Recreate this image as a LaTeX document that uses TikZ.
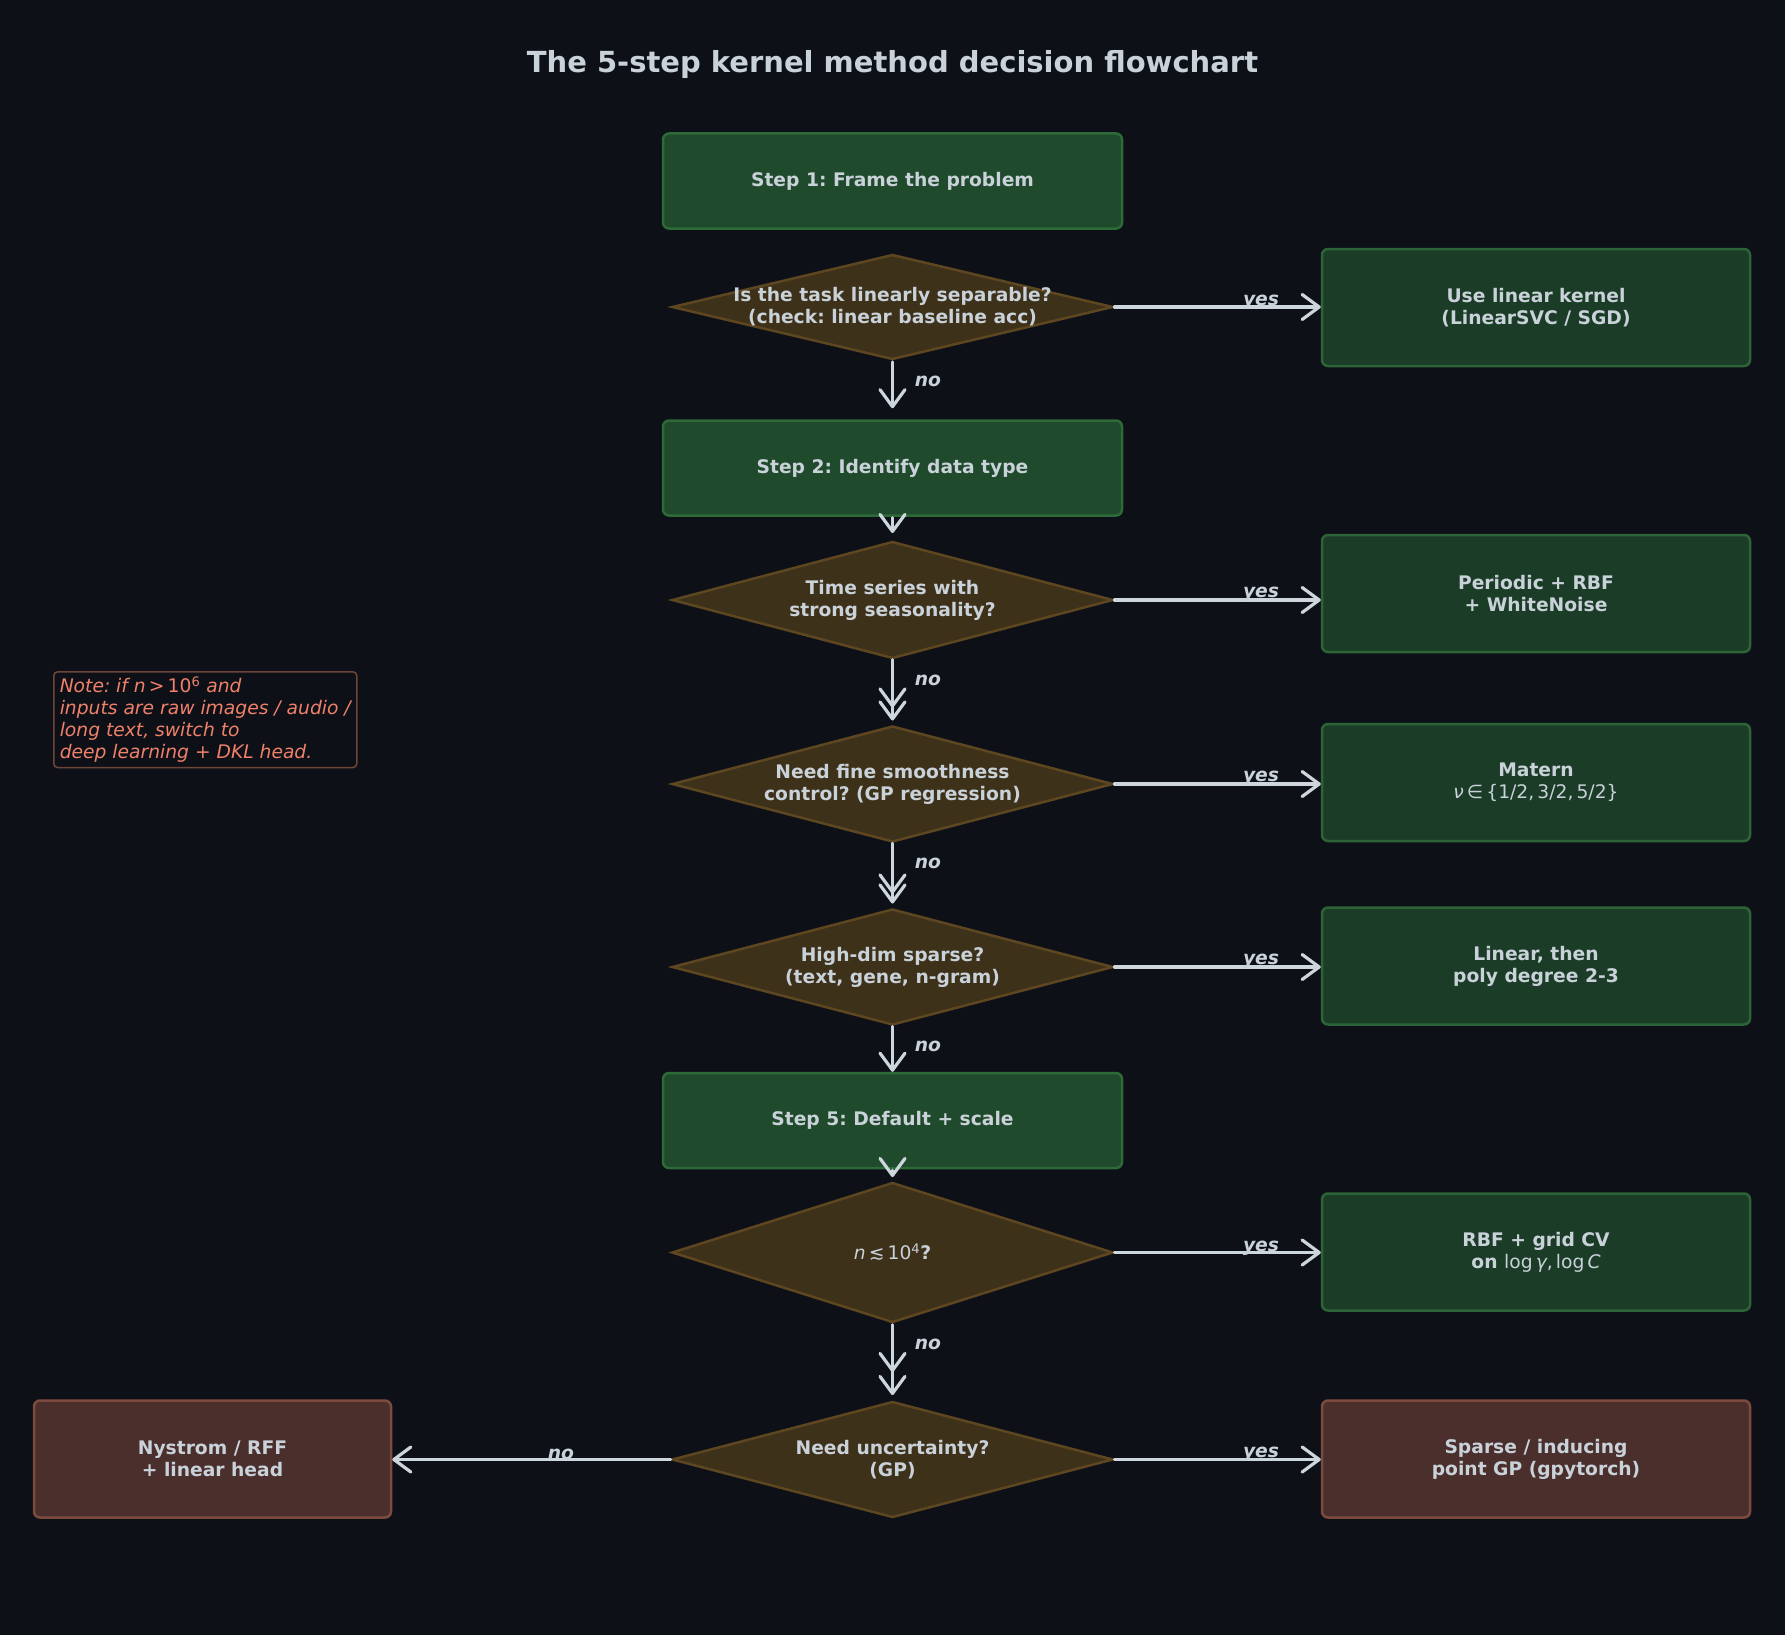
\documentclass[tikz,border=0pt]{standalone}
\usepackage{fontspec}
\setmainfont{DejaVu Sans}
\usetikzlibrary{shapes.geometric,arrows.meta}
\definecolor{bg}{HTML}{0D1117}
\definecolor{txt}{HTML}{C9D1D9}
\definecolor{arrc}{HTML}{CDD5DD}
\definecolor{stepfill}{HTML}{1F4A2C}
\definecolor{stepdraw}{HTML}{2D6A37}
\definecolor{resfill}{HTML}{1B3D28}
\definecolor{resdraw}{HTML}{2C6337}
\definecolor{diafill}{HTML}{3D311A}
\definecolor{diadraw}{HTML}{5E4620}
\definecolor{redfill}{HTML}{4B2F2D}
\definecolor{reddraw}{HTML}{7D4A3E}
\definecolor{notetxt}{HTML}{F0806A}
\definecolor{notedraw}{HTML}{6E4539}
\frenchspacing
\begin{document}
\frenchspacing
\begin{tikzpicture}[x=1pt,y=-1pt,
  basefont/.style={font=\fontsize{18.7}{22}\selectfont\bfseries, text=txt, align=center},
  stepbox/.style={basefont, rectangle, rounded corners=6, fill=stepfill, draw=stepdraw, line width=2.5, minimum width=459, minimum height=95, inner sep=0},
  resbox/.style={basefont, rectangle, rounded corners=6, fill=resfill, draw=resdraw, line width=2.5, minimum width=428, minimum height=117, inner sep=0},
  redbox/.style={basefont, rectangle, rounded corners=6, fill=redfill, draw=reddraw, line width=2.5, minimum height=117, inner sep=0},
  diabox/.style={diamond, fill=diafill, draw=diadraw, line width=2.5, minimum width=440, inner sep=0, outer sep=0},
  diatext/.style={basefont, inner sep=0},
  lbl/.style={font=\fontsize{18.7}{22}\selectfont\bfseries\itshape, text=txt, inner sep=0},
  arr/.style={draw=arrc, line width=3.2, line cap=round, -{Straight Barb[length=17,width=25,line cap=round,line join=round]}},
]
\fill[bg] (0,0) rectangle (1785,1635);
\useasboundingbox (0,0) rectangle (1785,1635);

\node[font=\fontsize{29}{34}\selectfont\bfseries, text=txt] (title) at (892.5,65) {The 5-step kernel method decision flowchart};

% main column
\node[stepbox] (s1) at (892.5,181) {Step 1: Frame the problem};
\node[diabox, minimum height=104] (d1) at (892.5,307) {};
\node[diatext] (d1t) at (d1.center) {Is the task linearly separable?\\(check: linear baseline acc)};
\node[stepbox] (s2) at (892.5,468) {Step 2: Identify data type};
\node[diabox, minimum height=116] (d2) at (892.5,600) {};
\node[diatext] (d2t) at (d2.center) {Time series with\\strong seasonality?};
\node[diabox, minimum height=115] (d3) at (892.5,784) {};
\node[diatext] (d3t) at (d3.center) {Need fine smoothness\\control? (GP regression)};
\node[diabox, minimum height=115] (d4) at (892.5,967) {};
\node[diatext] (d4t) at (d4.center) {High-dim sparse?\\(text, gene, n-gram)};
\node[stepbox] (s5) at (892.5,1120.5) {Step 5: Default + scale};
\node[diabox, minimum height=139] (d5) at (892.5,1252.5) {};
\node[diatext] (d5t) at (d5.center) {{\mdseries\textit{n}\,≲\,10\textsuperscript{4}}?};
\node[diabox, minimum height=115] (d6) at (892.5,1459.5) {};
\node[diatext] (d6t) at (d6.center) {Need uncertainty?\\(GP)};

% results
\node[resbox] (r1) at (1536,307.5) {Use linear kernel\\(LinearSVC / SGD)};
\node[resbox] (r2) at (1536,593.5) {Periodic + RBF\\+ WhiteNoise};
\node[resbox] (r3) at (1536,782.5) {Matern\\{\mdseries\textit{ν}\,∈\,\{1/2,\,3/2,\,5/2\}}};
\node[resbox] (r4) at (1536,966) {Linear, then\\poly degree 2-3};
\node[resbox] (r5) at (1536,1252) {RBF + grid CV\\on {\mdseries log\,\textit{γ},\,log\,\textit{C}}};
\node[redbox, minimum width=428] (r6) at (1536,1459) {Sparse / inducing\\point GP (gpytorch)};
\node[redbox, minimum width=357] (l6) at (212.5,1459) {Nystrom / RFF\\+ linear head};

% note
\node[anchor=north west, draw=notedraw, line width=1.5, rounded corners=4, fill=bg,
      text=notetxt, font=\fontsize{18.7}{22}\selectfont\itshape, align=left,
      inner xsep=6, inner ysep=5] (note) at (53,671)
  {Note: if \textit{n}\,{\upshape >\,10\textsuperscript{6}} and\\inputs are raw images / audio /\\long text, switch to\\deep learning + DKL head.};

% vertical arrows
\draw[arr, shorten <=3, shorten >=11] (d1.south) -- (s2.north);
\draw[arr, shorten <=1, shorten >=9] (s2.south) -- (d2.north);
\draw[arr, shorten <=2, shorten >=19] (d2.south) -- (d3.north);
\draw[arr, shorten <=2, shorten >=6] (d2.south) -- (d3.north);
\draw[arr, shorten <=2, shorten >=16] (d3.south) -- (d4.north);
\draw[arr, shorten <=2, shorten >=6] (d3.south) -- (d4.north);
\draw[arr, shorten <=2, shorten >=0] (d4.south) -- (s5.north);
\draw[arr, shorten <=1, shorten >=6] (s5.south) -- (d5.north);
\draw[arr, shorten <=3, shorten >=30] (d5.south) -- (d6.north);
\draw[arr, shorten <=3, shorten >=7] (d5.south) -- (d6.north);

% horizontal arrows
\draw[arr, shorten <=2] (d1.east) -- (d1.east -| r1.west);
\draw[arr, shorten <=2] (d2.east) -- (d2.east -| r2.west);
\draw[arr, shorten <=2] (d3.east) -- (d3.east -| r3.west);
\draw[arr, shorten <=2] (d4.east) -- (d4.east -| r4.west);
\draw[arr, shorten <=2] (d5.east) -- (d5.east -| r5.west);
\draw[arr, shorten <=2] (d6.east) -- (d6.east -| r6.west);
\draw[arr, shorten <=2] (d6.west) -- (d6.west -| l6.east);

% labels
\node[lbl] (y1) at (1261,302) {yes};
\node[lbl] (y2) at (1261,594) {yes};
\node[lbl] (y3) at (1261,778) {yes};
\node[lbl] (y4) at (1261,961) {yes};
\node[lbl] (y5) at (1261,1248) {yes};
\node[lbl] (y6) at (1261,1454) {yes};
\node[lbl] (n1) at (928,381) {no};
\node[lbl] (n2) at (928,680) {no};
\node[lbl] (n3) at (928,863) {no};
\node[lbl] (n4) at (928,1046) {no};
\node[lbl] (n5) at (928,1344) {no};
\node[lbl] (n6) at (561,1454) {no};
\end{tikzpicture}
\end{document}
